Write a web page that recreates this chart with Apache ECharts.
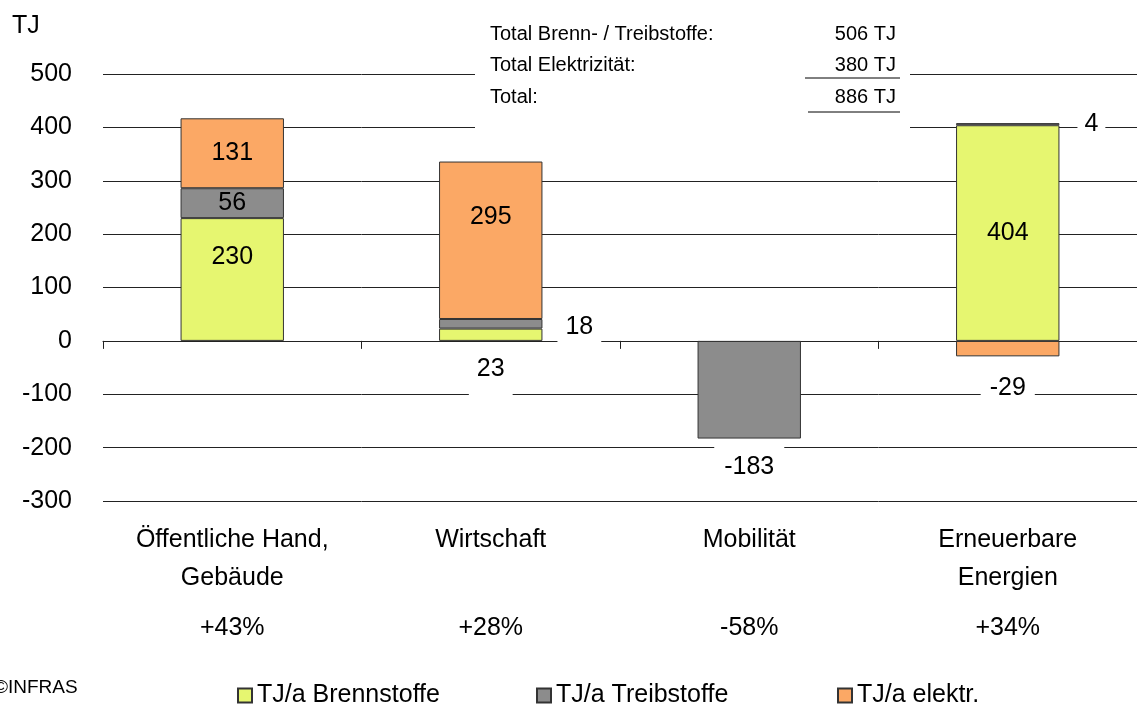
<!DOCTYPE html>
<html>
<head>
<meta charset="utf-8">
<script src="https://cdn.jsdelivr.net/npm/echarts@6/dist/echarts.min.js"></script>
<style>
    html, body { margin: 0; padding: 0; background: #fff; }
    #chart { width: 1137px; height: 711px; }
</style>
</head>
<body>
<div id="chart"></div>
<script>
    // Werte (TJ)
    const categories = ['Öffentliche Hand,\nGebäude', 'Wirtschaft', 'Mobilität', 'Erneuerbare\nEnergien'];
    const changes = ['+43%', '+28%', '-58%', '+34%'];
    const brennstoffe = [230, 23, null, 404];
    const treibstoffe = [56, 18, -183, 4];
    const elektr = [131, 295, null, -29];
    const yTicks = [-300, -200, -100, 0, 100, 200, 300, 400, 500];
    const seriesNames = ['TJ/a Brennstoffe', 'TJ/a Treibstoffe', 'TJ/a elektr.'];
    const totals = [
        ['Total Brenn- / Treibstoffe:', '506 TJ'],
        ['Total Elektrizität:', '380 TJ'],
        ['Total:', '886 TJ']
    ];

    const FONT = 'Liberation Sans';
    const LINE = '#222';

    // Labels, die nicht mittig im Balken stehen
    const labelOverrides = {
        'b0': {position: 'insideTop', distance: 26},
        'b1': {position: 'bottom', distance: 14, backgroundColor: '#fff', padding: [2, 8, 16, 8]},
        'e1': {position: 'insideTop', distance: 43},
        't1': {position: 'right', distance: 15, backgroundColor: '#fff', padding: [2, 8, 8, 8], offset: [0, 3]},
        't2': {position: 'bottom', distance: 8, backgroundColor: '#fff', padding: [8, 10, 2, 10]},
        't3': {position: 'right', distance: 18, backgroundColor: '#fff', padding: [2, 7, 2, 7]},
        'e3': {position: 'bottom', distance: 17, backgroundColor: '#fff', padding: [2, 9, 6, 9]}
    };

    function buildData(values, key) {
        return values.map((v, i) => {
            let item = {value: v};
            if (labelOverrides[key + i]) item.label = labelOverrides[key + i];
            return item;
        });
    }

    function makeSeries(name, values, key, color) {
        return {
            name: name,
            type: 'bar',
            stack: 'total',
            barWidth: '40%',
            data: buildData(values, key),
            itemStyle: {color: color, borderColor: '#333', borderWidth: 1},
            label: {
                show: true,
                position: 'inside',
                color: '#000',
                fontFamily: FONT,
                fontSize: 25
            }
        };
    }

    function makeLegend(name, left) {
        return {
            data: [name],
            left: left,
            top: 678,
            itemWidth: 14,
            itemHeight: 14,
            icon: 'rect',
            textStyle: {fontFamily: FONT, fontSize: 25, color: '#000'}
        };
    }

    let myChart = echarts.init(document.getElementById('chart'));

    let headerElements = [{
        type: 'rect',
        shape: {x: 475, y: 15, width: 435, height: 118},
        style: {fill: '#fff'},
        z: 100
    }];
    totals.forEach((row, i) => {
        headerElements.push({
            type: 'text', x: 490, y: 34 + i * 31.5, z: 101,
            style: {text: row[0], font: '20px ' + FONT, fill: '#000', verticalAlign: 'middle'}
        });
        headerElements.push({
            type: 'text', x: 896, y: 34 + i * 31.5, z: 101,
            style: {text: row[1], font: '20px ' + FONT, fill: '#000', align: 'right', verticalAlign: 'middle'}
        });
    });
    headerElements.push({type: 'line', z: 101, shape: {x1: 805, y1: 78, x2: 900, y2: 78}, style: {stroke: '#000', lineWidth: 1}});
    headerElements.push({type: 'line', z: 101, shape: {x1: 808, y1: 112, x2: 900, y2: 112}, style: {stroke: '#000', lineWidth: 1}});
    headerElements.push({
        type: 'text', x: 12, y: 26, z: 101,
        style: {text: 'TJ', font: '25px ' + FONT, fill: '#000', verticalAlign: 'middle'}
    });
    headerElements.push({
        type: 'text', x: -6, y: 688, z: 101,
        style: {text: '©INFRAS', font: '19px ' + FONT, fill: '#000', verticalAlign: 'middle'}
    });

    let option = {
        backgroundColor: '#fff',
        animation: false,
        textStyle: {fontFamily: FONT},
        grid: {left: 103, right: 0, top: 74, bottom: 210},
        legend: [
            makeLegend(seriesNames[0], 232),
            makeLegend(seriesNames[1], 531),
            makeLegend(seriesNames[2], 832)
        ],
        xAxis: [{
            type: 'category',
            data: categories,
            position: 'bottom',
            axisLine: {show: false, onZero: false},
            axisTick: {show: false},
            axisLabel: {
                margin: 20,
                color: '#000',
                formatter: function (value, index) {
                    let lines = value.split('\n');
                    if (lines.length < 2) lines.push(' ');
                    return lines.map(l => '{a|' + l + '}').join('\n') + '\n{p|' + changes[index] + '}';
                },
                rich: {
                    a: {fontFamily: FONT, fontSize: 25, lineHeight: 38, color: '#000'},
                    p: {fontFamily: FONT, fontSize: 25, lineHeight: 62, color: '#000'}
                }
            }
        }, {
            type: 'category',
            data: categories,
            position: 'top',
            axisLine: {show: true, onZero: true, onZeroAxisIndex: 0, lineStyle: {color: LINE, width: 1}},
            axisTick: {show: true, inside: true, length: 8, lineStyle: {color: LINE}},
            axisLabel: {show: false},
            splitLine: {show: false}
        }],
        yAxis: {
            type: 'value',
            min: yTicks[0],
            max: yTicks[yTicks.length - 1],
            interval: 100,
            axisLine: {show: false},
            axisTick: {show: false},
            splitLine: {lineStyle: {color: LINE, width: 1}},
            axisLabel: {fontFamily: FONT, fontSize: 25, color: '#000', margin: 31}
        },
        series: [
            makeSeries(seriesNames[0], brennstoffe, 'b', '#E6F670'),
            makeSeries(seriesNames[1], treibstoffe, 't', '#8C8C8C'),
            makeSeries(seriesNames[2], elektr, 'e', '#FBA865')
        ],
        graphic: {elements: headerElements}
    };
    myChart.setOption(option);
</script>
</body>
</html>
